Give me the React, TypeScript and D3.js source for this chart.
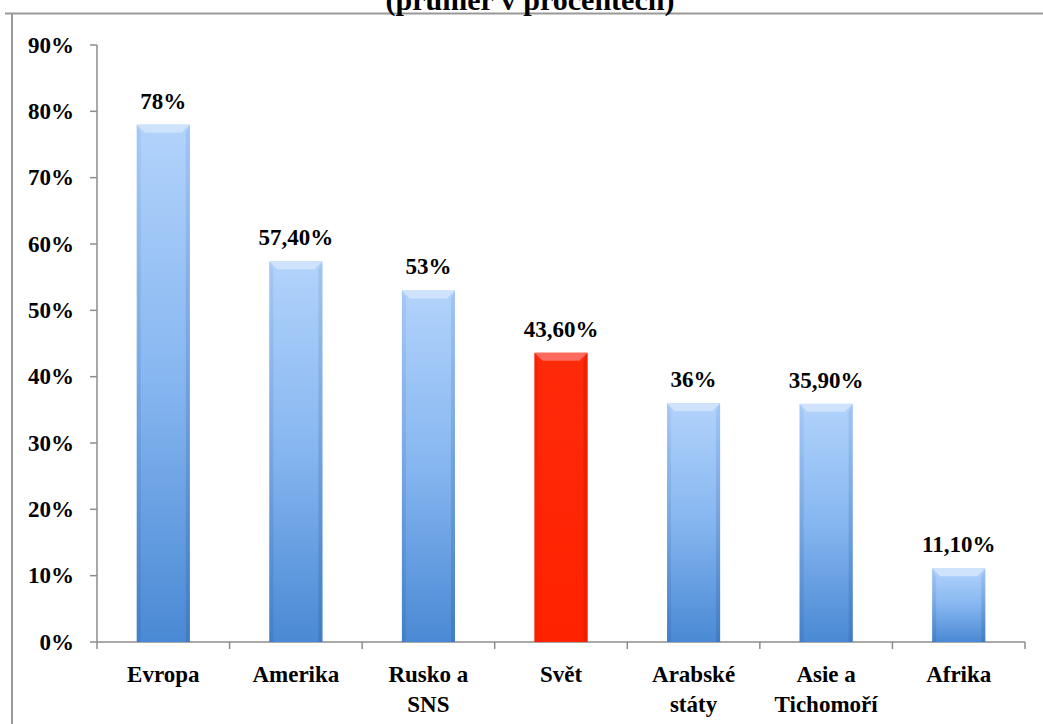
import React from "react";
import * as d3 from "d3";

const categories: string[][] = [
  ["Evropa"],
  ["Amerika"],
  ["Rusko a", "SNS"],
  ["Svět"],
  ["Arabské", "státy"],
  ["Asie a", "Tichomoří"],
  ["Afrika"],
];
const values: number[] = [78, 57.4, 53, 43.6, 36, 35.9, 11.1];
const valueLabels: string[] = ["78%", "57,40%", "53%", "43,60%", "36%", "35,90%", "11,10%"];
const highlighted: boolean[] = [false, false, false, true, false, false, false];
const yTicks: number[] = [0, 10, 20, 30, 40, 50, 60, 70, 80, 90];
const title = "(průměr v procentech)";

const W = 1043;
const H = 724;
const FONT = "'Liberation Serif', 'Times New Roman', serif";
const FS = 23;

export default function App() {
  const keys = categories.map((c) => c.join(" "));
  const x = d3.scaleBand<string>().domain(keys).range([97, 1025]).padding(0);
  const y = d3.scaleLinear().domain([0, 90]).range([642, 45]);
  const bw = x.bandwidth() * 0.4;
  const axisColor = "#8c8c8c";

  return (
    <div style={{ position: "fixed", left: 0, top: 0 }}>
      <svg width={W} height={H} style={{ display: "block", background: "#fff" }}>
        <defs>
          <linearGradient id="blueBody" x1="0" y1="0" x2="0" y2="1">
            <stop offset="0" stopColor="#b2d3fb" />
            <stop offset="0.5" stopColor="#86b6f0" />
            <stop offset="1" stopColor="#4a89d4" />
          </linearGradient>
          <linearGradient id="blueSide" x1="0" y1="0" x2="0" y2="1">
            <stop offset="0" stopColor="#9cc2f2" />
            <stop offset="1" stopColor="#3d78c0" />
          </linearGradient>
          <linearGradient id="redBody" x1="0" y1="0" x2="0" y2="1">
            <stop offset="0" stopColor="#ff2a0a" />
            <stop offset="1" stopColor="#ff2200" />
          </linearGradient>
        </defs>

        {/* frame */}
        <line x1={5} x2={W} y1={13.5} y2={13.5} stroke="#999" strokeWidth={2} />
        <line x1={12} x2={12} y1={13} y2={H} stroke="#999" strokeWidth={2} />

        {/* title, partly above the top edge */}
        <text x={530} y={10} textAnchor="middle" fontFamily={FONT} fontWeight="bold" fontSize={30} fill="#000">
          {title}
        </text>

        {/* y axis */}
        <line x1={97} x2={97} y1={y(90)} y2={y(0)} stroke={axisColor} strokeWidth={1.5} />
        {yTicks.map((t) => (
          <g key={t}>
            <line x1={90} x2={97} y1={y(t)} y2={y(t)} stroke={axisColor} strokeWidth={1.5} />
            <text x={74} y={y(t) + 7.5} textAnchor="end" fontFamily={FONT} fontWeight="bold" fontSize={FS} fill="#000">
              {t}%
            </text>
          </g>
        ))}

        {/* x axis */}
        <line x1={97} x2={1025} y1={y(0)} y2={y(0)} stroke={axisColor} strokeWidth={1.5} />
        {[...keys.map((k) => x(k) as number), 1025].map((px, i) => (
          <line key={i} x1={px} x2={px} y1={y(0)} y2={y(0) + 7} stroke={axisColor} strokeWidth={1.5} />
        ))}

        {/* bars */}
        {values.map((v, i) => {
          const cx = (x(keys[i]) as number) + x.bandwidth() / 2;
          const x0 = cx - bw / 2;
          const top = y(v);
          const red = highlighted[i];
          const bev = 8;
          const side = 4;
          return (
            <g key={keys[i]}>
              <rect x={x0} y={top} width={bw} height={y(0) - top} fill={red ? "url(#redBody)" : "url(#blueBody)"} />
              <polygon
                points={`${x0},${top} ${x0 + side},${top + bev} ${x0 + side},${y(0)} ${x0},${y(0)}`}
                fill={red ? "#f52000" : "url(#blueSide)"}
                opacity={0.6}
              />
              <polygon
                points={`${x0 + bw},${top} ${x0 + bw - side},${top + bev} ${x0 + bw - side},${y(0)} ${x0 + bw},${y(0)}`}
                fill={red ? "#e81e00" : "url(#blueSide)"}
                opacity={0.8}
              />
              <polygon
                points={`${x0},${top} ${x0 + bw},${top} ${x0 + bw - bev},${top + bev} ${x0 + bev},${top + bev}`}
                fill={red ? "#ff6a5e" : "#cfe3fd"}
              />
              <text x={cx} y={top - 16} textAnchor="middle" fontFamily={FONT} fontWeight="bold" fontSize={FS} fill="#000">
                {valueLabels[i]}
              </text>
            </g>
          );
        })}

        {/* category labels */}
        {categories.map((lines, i) => {
          const cx = (x(keys[i]) as number) + x.bandwidth() / 2;
          return (
            <text key={i} x={cx} textAnchor="middle" fontFamily={FONT} fontWeight="bold" fontSize={FS} fill="#000">
              {lines.map((ln, j) => (
                <tspan key={j} x={cx} y={682 + j * 30}>
                  {ln}
                </tspan>
              ))}
            </text>
          );
        })}
      </svg>
    </div>
  );
}
